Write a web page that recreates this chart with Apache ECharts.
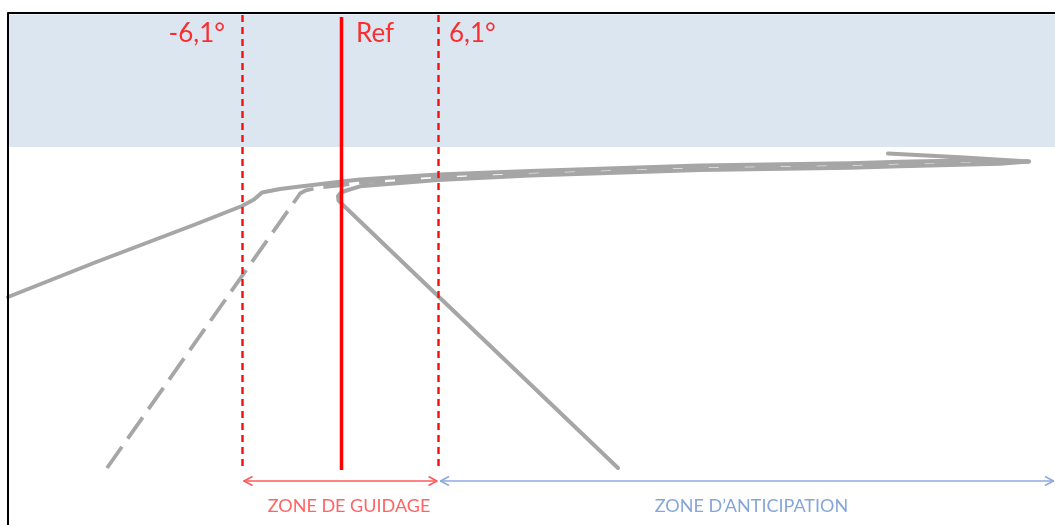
<!DOCTYPE html>
<html>
<head>
<meta charset="utf-8">
<script src="https://cdn.jsdelivr.net/npm/echarts@6/dist/echarts.min.js"></script>
<style>
html,body{margin:0;padding:0;background:#fff;}
#c{width:1055px;height:525px;}
</style>
</head>
<body>
<div id="c"></div>
<script>
// Scene coordinates (horizontal position, vertical position; vertical grows downward)
const frameLine = [[8, 530], [8, 13], [1060, 13]];
const skyBand = [[9, 14.5], [1055, 147]];

// Angle limits and reference
const limitLeftX = 242.5;
const refX = 341.5;
const limitRightX = 438.5;
const limitTop = 15;
const limitBottom = 470;
const refTop = 17;

// Trajectory A (solid, enters from the left, loops back at the far end)
const trajA = [[8, 297], [95, 262.5], [195, 224.5], [242, 206], [254, 199.5], [258, 196], [262, 192.5],
  [280, 189], [300, 186.5], [342, 181.5], [360, 179.6], [438, 174.4], [530, 171.1], [600, 168.8],
  [700, 165.5], [850, 163.3], [900, 161.8], [1000, 159.7], [1029, 161.5], [960, 157.3], [888, 153.5]];

// Trajectory B (dashed)
const trajB = [[107, 468], [242, 276], [297, 198], [300, 193.5], [306, 190.3], [318, 187.8],
  [342, 185], [360, 182.6], [438, 177.2], [505, 174.3], [530, 173.3], [600, 171], [700, 167.7],
  [850, 165.5], [900, 164], [1000, 161.7], [1029, 161.5]];

// Trajectory C (solid, comes back from the bottom right)
const trajC = [[618, 468], [438, 296], [343, 205], [338.5, 200.5], [338, 196], [341, 192.5],
  [348, 190], [360, 186.3], [438, 180], [530, 175.5], [600, 173.2], [700, 169.9], [850, 167.7],
  [900, 166.2], [1000, 163.7], [1029, 161.5]];

// Zone arrows
const guideArrow = [[243.5, 481], [437, 481]];
const guideHeadL = [[252.5, 476.5], [244, 481], [252.5, 485.5]];
const guideHeadR = [[428.5, 476.5], [437, 481], [428.5, 485.5]];
const anticipArrow = [[440, 481], [1054, 481]];
const anticipHeadL = [[449, 476.5], [440.5, 481], [449, 485.5]];
const anticipHeadR = [[1045, 476.5], [1053.5, 481], [1045, 485.5]];

// Texts
const topLabels = ['-6,1°', 'Ref', '6,1°'];
const topLabelPos = [[225, 34], [356, 34], [449, 34]];
const zoneLabels = ['ZONE DE GUIDAGE', 'ZONE D’ANTICIPATION'];
const zoneLabelPos = [[349, 506], [751.5, 506]];

const GRAY = '#a6a6a6';
const RED = '#ff0000';

function seg(data, color, width, type, z, cap) {
  return {
    type: 'line', data: data, showSymbol: false, symbol: 'none', silent: true,
    animation: false, z: z || 2,
    lineStyle: { color: color, width: width, type: type || 'solid', cap: cap || 'butt', join: 'round' }
  };
}
function textSeries(data, labels, align, size, color) {
  return {
    type: 'scatter', symbolSize: 0, silent: true, animation: false, z: 10,
    data: data.map((p, i) => ({ value: p, name: labels[i] })),
    label: {
      show: true, position: [0, 0], align: align, verticalAlign: 'middle',
      formatter: p => p.name, fontFamily: 'Lato', fontSize: size, color: color
    }
  };
}

const chart = echarts.init(document.getElementById('c'), null, { renderer: 'canvas' });
const series = [];
series.push({
  type: 'line', data: [], silent: true, animation: false, z: 0,
  markArea: { silent: true, itemStyle: { color: '#dce6f1' },
    data: [[{ coord: skyBand[0] }, { coord: skyBand[1] }]] }
});
series.push(seg(frameLine, '#000000', 2, 'solid', 3));
series.push(seg(trajA, GRAY, 4, 'solid', 2, 'round'));
series.push(seg(trajC, GRAY, 4, 'solid', 2, 'round'));
series.push(seg(trajB, GRAY, 3.8, [26, 10], 2, 'butt'));
series.push(seg([[limitLeftX, limitTop], [limitLeftX, limitBottom]], '#ff0a0a', 2.4, [7, 5], 4));
series.push(seg([[limitRightX, limitTop], [limitRightX, limitBottom]], '#ff0a0a', 2.4, [7, 5], 4));
series.push(seg([[refX, refTop], [refX, limitBottom]], RED, 3.5, 'solid', 5));
series.push(seg(guideArrow, '#ff5a5a', 1.5, 'solid', 4));
series.push(seg(guideHeadL, '#ff5a5a', 1.5, 'solid', 4));
series.push(seg(guideHeadR, '#ff5a5a', 1.5, 'solid', 4));
series.push(seg(anticipArrow, '#8eaadc', 1.5, 'solid', 4));
series.push(seg(anticipHeadL, '#8eaadc', 1.5, 'solid', 4));
series.push(seg(anticipHeadR, '#8eaadc', 1.5, 'solid', 4));
series.push(textSeries([topLabelPos[0]], [topLabels[0]], 'right', 26, RED));
series.push(textSeries([topLabelPos[1], topLabelPos[2]], [topLabels[1], topLabels[2]], 'left', 26, RED));
series.push(textSeries([zoneLabelPos[0]], [zoneLabels[0]], 'center', 18, '#ff3c3c'));
series.push(textSeries([zoneLabelPos[1]], [zoneLabels[1]], 'center', 18, '#6690d0'));

chart.setOption({
  backgroundColor: '#ffffff',
  animation: false,
  grid: { left: 0, right: 0, top: 0, bottom: 0, containLabel: false },
  xAxis: { type: 'value', min: 0, max: 1055, show: false },
  yAxis: { type: 'value', min: 0, max: 525, inverse: true, show: false },
  series: series
});
</script>
</body>
</html>
